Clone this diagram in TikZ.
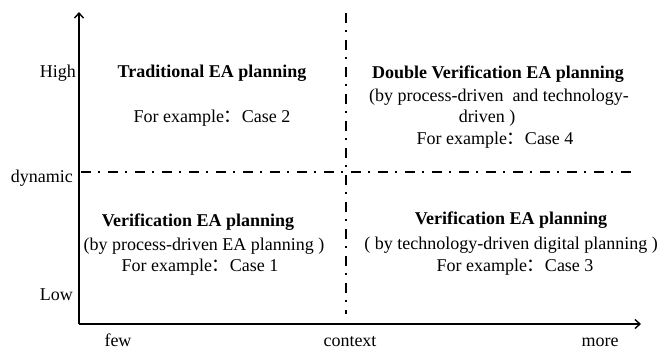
\documentclass[tikz,border=0pt]{standalone}
\usepackage{fontspec}
\setmainfont{Liberation Serif}
\newfontfamily\cjk{Noto Sans CJK SC}
\usetikzlibrary{arrows.meta}
\newcommand{\fcolon}{{\cjk ：}}
\tikzset{
  axis/.style={line width=1.6pt, -{Straight Barb[length=5pt,width=9pt,line width=1.4pt]}},
  divider/.style={line width=1.5pt, dash pattern=on 10pt off 7pt on 2pt off 8pt},
  lbl/.style={font=\fontsize{18}{20}\selectfont, inner sep=0pt},
  xlbl/.style={lbl, anchor=base, text depth=0pt},
  title/.style={font=\fontsize{18}{20}\selectfont\bfseries, inner sep=0pt},
  body/.style={font=\fontsize{18}{20}\selectfont, inner sep=0pt},
}
\begin{document}
\begin{tikzpicture}[x=1pt, y=-1pt]
  \useasboundingbox (0,0) rectangle (662,349);

  % axes
  \coordinate (o) at (79,324);
  \coordinate (ytip) at (79,12);
  \coordinate (xtip) at (641,324);
  \draw[axis] (o) -- (ytip);
  \draw[axis] (o) -- (xtip);

  % quadrant dividers
  \coordinate (hl) at (81,172);
  \coordinate (hr) at (634,172);
  \coordinate (vt) at (346,13);
  \coordinate (vb) at (346,314);
  \draw[divider] (hl) -- (hr);
  \draw[divider] (vt) -- (vb);

  % axis labels
  \node[lbl, anchor=east] (high) at (76,73) {High};
  \node[lbl, anchor=east] (dyn) at (73,178) {dynamic};
  \node[lbl, anchor=east] (low) at (73,295) {Low};
  \node[xlbl] (few) at (118,346) {few};
  \node[xlbl] (ctx) at (350,346) {context};
  \node[xlbl] (more) at (600,346) {more};

  % upper left
  \node[title] (q1t) at (212,73) {Traditional EA planning};
  \node[body] (q1e) at (212,118) {For example\fcolon Case 2};

  % upper right
  \node[title] (q2t) at (498,74) {Double Verification EA planning};
  \node[body] (q2a) at (499,97) {(by process-driven\ \ and technology-};
  \node[body] (q2b) at (487,118) {driven )};
  \node[body] (q2e) at (495,140) {For example\fcolon Case 4};

  % lower left
  \node[title] (q3t) at (198,222) {Verification EA planning};
  \node[body] (q3a) at (204,246) {(by process-driven EA planning )};
  \node[body] (q3e) at (200,267) {For example\fcolon Case 1};

  % lower right
  \node[title] (q4t) at (511,220) {Verification EA planning};
  \node[body] (q4a) at (511,245) {( by technology-driven digital planning )};
  \node[body] (q4e) at (515,267) {For example\fcolon Case 3};
\end{tikzpicture}
\end{document}
